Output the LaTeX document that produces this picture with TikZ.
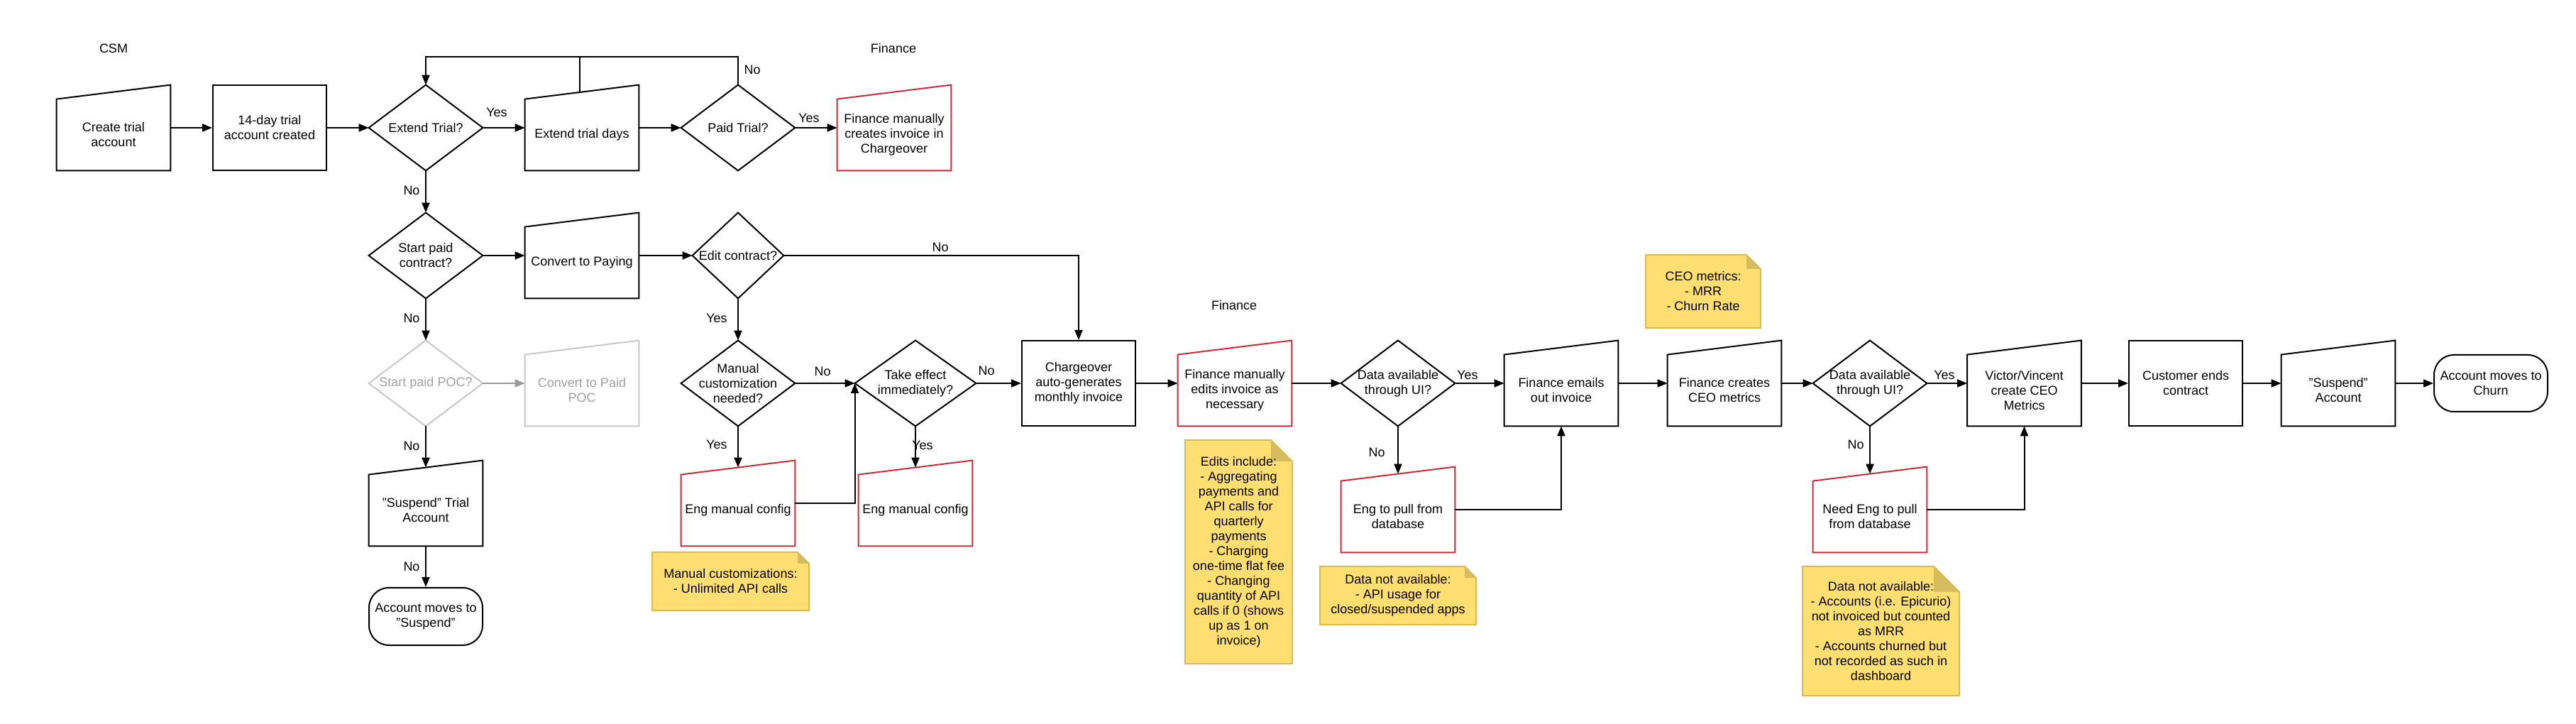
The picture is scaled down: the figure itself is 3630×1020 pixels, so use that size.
\documentclass[tikz,border=0pt]{standalone}
\usepackage{fontspec}
\setmainfont{Liberation Sans}
\usetikzlibrary{arrows.meta,calc}
\definecolor{lred}{HTML}{C92D39}
\definecolor{nfill}{HTML}{FFDF71}
\definecolor{nedge}{HTML}{D8BB55}
\definecolor{nfold}{HTML}{D6BC5E}
\definecolor{gline}{HTML}{C8C8C8}
\definecolor{gtext}{HTML}{A0A0A0}
\definecolor{garrow}{HTML}{9A9A9A}
% [nodeopts]{outline}{name}{x}{y}{text}
\newcommand\manualbox[6][]{%
  \node[shp,#1] (#3) at (#4,#5) {};
  \node[txt,#1] (#3-t) at ([yshift=-5pt]#3.center) {#6};
  \draw[#2] (#3.south west) -- ([yshift=-10pt]#3.north west) -- (#3.north east) -- (#3.south east) -- cycle;}
\newcommand\decision[6][]{%
  \node[shp,txt,#1] (#3) at (#4,#5) {#6};
  \draw[#2] (#3.north) -- (#3.east) -- (#3.south) -- (#3.west) -- cycle;}
% {name}{x0}{y0}{x1}{y1}{fold}{text}
\newcommand\notebox[7]{%
  \filldraw[fill=nfill,draw=nedge,line width=1pt] (#2,#3) -- ({#4-#6},#3) -- (#4,{#3+#6}) -- (#4,#5) -- (#2,#5) -- cycle;
  \fill[nfold] ({#4-#6},#3) -- ({#4-#6},{#3+#6}) -- (#4,{#3+#6}) -- cycle;
  \node[txt] (#1) at ({(#2+#4)/2},{(#3+#5)/2}) {#7};}
\begin{document}
\begin{tikzpicture}[x=0.5pt,y=-0.5pt,
  txt/.style={font=\fontsize{9}{10.5}\selectfont, align=center, inner sep=0pt},
  shp/.style={rectangle, minimum width=80pt, minimum height=60pt, inner sep=0pt, draw=none},
  ol/.style={draw=black, line width=1pt},
  olr/.style={draw=lred, line width=1pt},
  olg/.style={draw=gline, line width=1pt},
  arr/.style={line width=1pt, -{Triangle[length=7pt,width=5.5pt]}},
  plain/.style={line width=1pt}]
\useasboundingbox (0,0) rectangle (3630,1020);
\fill[white] (0,0) rectangle (3630,1020);

% headings
\node[txt] (hcsm) at (160,68) {CSM};
\node[txt] (hfin1) at (1259,68) {Finance};
\node[txt] (hfin2) at (1739,430) {Finance};

% row 1
\manualbox{ol}{ct}{160}{180}{Create trial\\account}
\node[shp,txt,ol] (t14) at (380,180) {14-day trial\\account created};
\decision{ol}{ext}{600}{180}{Extend Trial?}
\manualbox{ol}{etd}{820}{180}{Extend trial days}
\decision{ol}{pt}{1040}{180}{Paid Trial?}
\manualbox{olr}{fmc}{1260}{180}{Finance manually\\creates invoice in\\Chargeover}

% row 2
\decision{ol}{spc}{600}{360}{Start paid\\contract?}
\manualbox{ol}{ctp}{820}{360}{Convert to Paying}
\decision[minimum width=64pt]{ol}{ec}{1040}{360}{Edit contract?}

% row 3
\decision[text=gtext]{olg}{spoc}{600}{540}{Start paid POC?}
\manualbox[text=gtext]{olg}{cpoc}{820}{540}{Convert to Paid\\POC}
\decision{ol}{mcn}{1040}{540}{Manual\\customization\\needed?}
\decision[minimum width=85pt]{ol}{te}{1290}{540}{Take effect\\immediately?}
\node[shp,txt,ol] (cgo) at (1520,540) {Chargeover\\auto-generates\\monthly invoice};
\manualbox{olr}{fme}{1740}{540}{Finance manually\\edits invoice as\\necessary}
\decision{ol}{da1}{1970}{540}{Data available\\through UI?}
\manualbox{ol}{feo}{2200}{540}{Finance emails\\out invoice}
\manualbox{ol}{fcc}{2430}{540}{Finance creates\\CEO metrics}
\decision{ol}{da2}{2635}{540}{Data available\\through UI?}
\manualbox{ol}{vv}{2852.5}{540}{Victor/Vincent\\create CEO\\Metrics}
\node[shp,txt,ol] (cec) at (3080,540) {Customer ends\\contract};
\manualbox{ol}{sa}{3295}{540}{"Suspend"\\Account}
\node[shp,txt,ol,rounded corners=14pt,minimum height=40pt] (amc) at (3510,540) {Account moves to\\Churn};

% row 4
\manualbox{ol}{sta}{600}{709}{"Suspend" Trial\\Account}
\manualbox{olr}{emc1}{1040}{709}{Eng manual config}
\manualbox{olr}{emc2}{1290}{709}{Eng manual config}
\manualbox{olr}{etp}{1970}{718}{Eng to pull from\\database}
\manualbox{olr}{neng}{2635}{718}{Need Eng to pull\\from database}

% row 5
\node[shp,txt,ol,rounded corners=14pt,minimum height=40.5pt] (amsus) at (600,868.5) {Account moves to\\"Suspend"};

% notes
\notebox{n1}{919}{778}{1140}{860}{16}{Manual customizations:\\- Unlimited API calls}
\notebox{n2}{1670}{620}{1821}{935}{30}{Edits include:\\- Aggregating\\payments and\\API calls for\\quarterly\\payments\\- Charging\\one-time flat fee\\- Changing\\quantity of API\\calls if 0 (shows\\up as 1 on\\invoice)}
\notebox{n3}{1860}{798}{2080}{880}{16}{Data not available:\\- API usage for\\closed/suspended apps}
\notebox{n4}{2319}{359}{2481}{462}{20}{CEO metrics:\\- MRR\\- Churn Rate}
\notebox{n5}{2540}{798}{2761}{980}{36}{Data not available:\\- Accounts (i.e. Epicurio)\\not invoiced but counted\\as MRR\\- Accounts churned but\\not recorded as such in\\dashboard}

% connectors row 1
\coordinate (topy) at (0,80);
\coordinate (etdj) at (817,130.4);
\draw[arr] (ct.east) -- (t14.west);
\draw[arr] (t14.east) -- (ext.west);
\draw[arr] (ext.east) -- (etd.west);
\draw[arr] (etd.east) -- (pt.west);
\draw[arr] (pt.east) -- (fmc.west);
\draw[arr] (pt.north) -- (pt.north |- topy) -| (ext.north);
\draw[plain] (etdj) -- (etdj |- topy);

% row 2
\draw[arr] (ext.south) -- (spc.north);
\draw[arr] (spc.east) -- (ctp.west);
\draw[arr] (ctp.east) -- (ec.west);
\draw[arr] (ec.east) -| (cgo.north);
\draw[arr] (ec.south) -- (mcn.north);

% left column
\draw[arr] (spc.south) -- (spoc.north);
\draw[arr,draw=garrow] (spoc.east) -- (cpoc.west);
\draw[arr] (spoc.south) -- ([yshift=-5pt]sta.north);
\draw[arr] (sta.south) -- (amsus.north);

% row 3
\draw[arr] (mcn.east) -- (te.west);
\draw[arr] (mcn.south) -- ([yshift=-5pt]emc1.north);
\draw[arr] (emc1.east) -| (te.west);
\draw[arr] (te.south) -- ([yshift=-5pt]emc2.north);
\draw[arr] (te.east) -- (cgo.west);
\draw[arr] (cgo.east) -- (fme.west);
\draw[arr] (fme.east) -- (da1.west);
\draw[arr] (da1.east) -- (feo.west);
\draw[arr] (da1.south) -- ([yshift=-5pt]etp.north);
\draw[arr] (etp.east) -| (feo.south);
\draw[arr] (feo.east) -- (fcc.west);
\draw[arr] (fcc.east) -- (da2.west);
\draw[arr] (da2.east) -- (vv.west);
\draw[arr] (da2.south) -- ([yshift=-5pt]neng.north);
\draw[arr] (neng.east) -| (vv.south);
\draw[arr] (vv.east) -- (cec.west);
\draw[arr] (cec.east) -- (sa.west);
\draw[arr] (sa.east) -- (amc.west);

% labels
\node[txt] (y1) at (700,158) {Yes};
\node[txt] (n1l) at (1060,98) {No};
\node[txt] (y2) at (1140,166) {Yes};
\node[txt] (n2l) at (580,268) {No};
\node[txt] (n3l) at (580,448) {No};
\node[txt] (y3) at (1010,448) {Yes};
\node[txt] (n4l) at (1325,348) {No};
\node[txt] (n5l) at (580,628) {No};
\node[txt] (y4) at (1010,626) {Yes};
\node[txt] (n6l) at (1159,523) {No};
\node[txt] (n7l) at (1390,522) {No};
\node[txt] (y5) at (1300,627) {Yes};
\node[txt] (n8l) at (580,798) {No};
\node[txt] (y6) at (2068,528) {Yes};
\node[txt] (n9l) at (1940,637) {No};
\node[txt] (y7) at (2740,528) {Yes};
\node[txt] (n10l) at (2615,626) {No};
\end{tikzpicture}
\end{document}
